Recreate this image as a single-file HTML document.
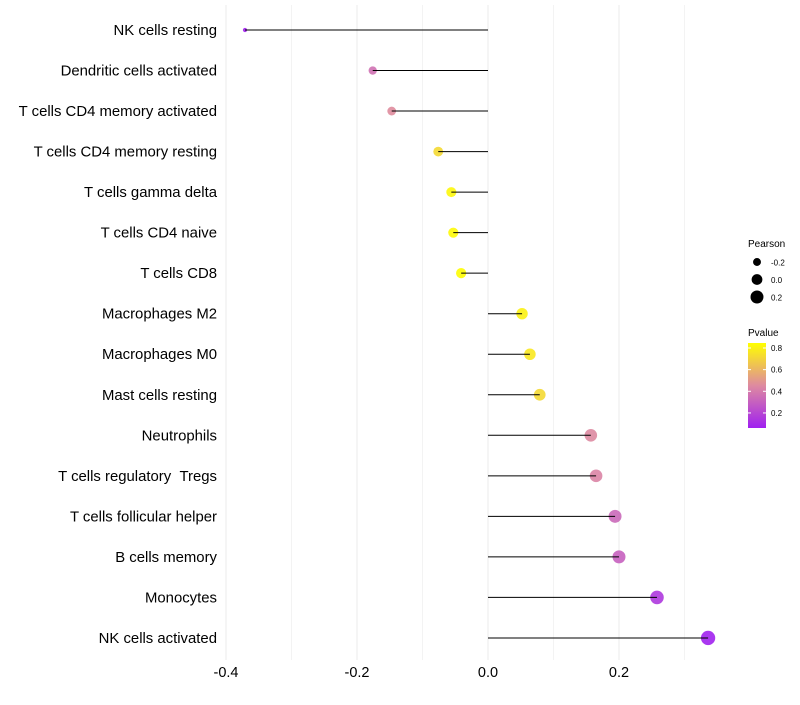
<!DOCTYPE html>
<html><head><meta charset="utf-8"><style>
body{margin:0;background:#fff;font-family:"Liberation Sans",sans-serif}
svg text{font-family:"Liberation Sans",sans-serif;white-space:pre}
</style></head><body>
<svg id="chart" width="800" height="700"></svg>
<script>
const categories=["NK cells resting","Dendritic cells activated","T cells CD4 memory activated","T cells CD4 memory resting","T cells gamma delta","T cells CD4 naive","T cells CD8","Macrophages M2","Macrophages M0","Mast cells resting","Neutrophils","T cells regulatory \u00a0Tregs","T cells follicular helper","B cells memory","Monocytes","NK cells activated"];
const pearson=[-0.371,-0.176,-0.147,-0.076,-0.056,-0.053,-0.041,0.052,0.064,0.079,0.157,0.165,0.194,0.2,0.258,0.336];
const pvalues=[0.07,0.36,0.46,0.72,0.82,0.83,0.84,0.8,0.77,0.72,0.45,0.43,0.33,0.3,0.15,0.07];
const xTicks=[-0.4,-0.2,0.0,0.2];
const xTickLabels=["-0.4","-0.2","0.0","0.2"];
const xMinor=[-0.3,-0.1,0.1,0.3];
const legendSizes=[-0.2,0.0,0.2];
const legendP=[0.8,0.6,0.4,0.2];

const NS="http://www.w3.org/2000/svg";
const svg=document.getElementById('chart');
const xs=v=>488+v*655;
const ys=i=>30+i*40.53;
const rs=v=>Math.sqrt(Math.max(2,4.5+66*(v+0.371)));
const pMin=0.061,pMax=0.846;
function col(p){let t=(p-pMin)/(pMax-pMin);t=Math.max(0,Math.min(1,t));
 const a=[160,32,240],m=[222,138,160],b=[255,255,0];let c;
 if(t<0.5){const u=t/0.5;c=a.map((x,k)=>x+(m[k]-x)*u);}else{const u=(t-0.5)/0.5;c=m.map((x,k)=>x+(b[k]-x)*u);}
 return `rgb(${c.map(Math.round).join(',')})`;}
function el(tag,attrs,parent){const e=document.createElementNS(NS,tag);for(const k in attrs)e.setAttribute(k,attrs[k]);(parent||svg).appendChild(e);return e;}

xMinor.forEach(v=>{const l=el('line',{x1:xs(v),x2:xs(v),y1:5,y2:660,stroke:'#f3f3f3','stroke-width':1});

});
xTicks.forEach((v,i)=>{const l=el('line',{x1:xs(v),x2:xs(v),y1:5,y2:660,stroke:'#ebebeb','stroke-width':1});


const t=el('text',{x:xs(v),y:677,'text-anchor':'middle','font-size':14.5,fill:'#000'});t.textContent=xTickLabels[i];

});

categories.forEach((c,i)=>{const y=ys(i);
 const t=el('text',{x:217,y:y+5,'text-anchor':'end','font-size':14.9,fill:'#000'});t.textContent=c;
 
 
 const d=el('circle',{cx:xs(pearson[i]),cy:y,r:rs(pearson[i]),fill:col(pvalues[i]),'fill-opacity':0.9});
 
 
 const l=el('line',{x1:xs(0),x2:xs(pearson[i]),y1:y,y2:y,stroke:'#000','stroke-width':1});
 
 
});

const lg=el('g',{});


const lt=el('text',{x:748,y:247,'font-size':10},lg);lt.textContent='Pearson';


legendSizes.forEach((v,i)=>{const y=262+i*17.5;
 const c=el('circle',{cx:757,cy:y,r:rs(v),fill:'#000'},lg);
 
 
 const t=el('text',{x:771,y:y+3.5,'font-size':8},lg);t.textContent=v.toFixed(1);
 
 });
const pt=el('text',{x:748,y:336,'font-size':10},lg);pt.textContent='Pvalue';


const defs=el('defs',{});
const gr=el('linearGradient',{id:'pg',x1:0,y1:1,x2:0,y2:0},defs);
[0,0.25,0.5,0.75,1].forEach(o=>el('stop',{offset:o,'stop-color':col(pMin+o*(pMax-pMin))},gr));
const bar=el('rect',{x:748,y:343,width:18,height:85,fill:'url(#pg)'},lg);


legendP.forEach(p=>{const y=343+(pMax-p)/(pMax-pMin)*85;
 el('line',{x1:748,x2:751,y1:y,y2:y,stroke:'#fff'},lg);el('line',{x1:763,x2:766,y1:y,y2:y,stroke:'#fff'},lg);
 const t=el('text',{x:771,y:y+3,'font-size':8},lg);t.textContent=p.toFixed(1);
 
 });
</script>
</body></html>
